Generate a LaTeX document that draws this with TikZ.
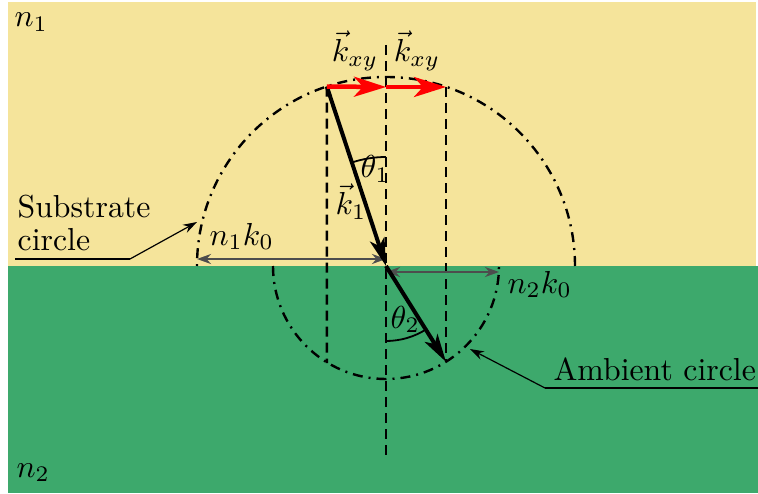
\documentclass[tikz,border=0pt]{standalone}
\usetikzlibrary{arrows.meta}
\definecolor{ybg}{RGB}{245,228,155}
\definecolor{gbg}{RGB}{61,169,108}
\definecolor{grayarr}{RGB}{77,77,77}
\begin{document}
\begin{tikzpicture}[x=1pt,y=1pt,
  every node/.style={inner sep=0pt,scale=3.18},
  dashv/.style={line width=2.6pt,dash pattern=on 10pt off 6pt},
  dashdotc/.style={line width=2.4pt,dash pattern=on 10pt off 6pt on 2pt off 6pt},
  kvec/.style={line width=4pt,-{Stealth[length=28pt,width=15pt,inset=7pt]}},
  kxy/.style={red,line width=4.5pt,-{Stealth[length=32pt,width=20pt,inset=9pt]}},
  garr/.style={grayarr,line width=2.5pt,{Stealth[length=14pt,width=10pt]}-{Stealth[length=14pt,width=10pt]}},
  anglearc/.style={line width=1.8pt},
  annot/.style={line width=1.2pt},
  annarr/.style={line width=1.2pt,-{Stealth[length=14pt,width=9pt]}}]
\useasboundingbox (-386,-227) rectangle (372,266);
\fill[ybg] (-378,0) rectangle (370,264);
\fill[gbg] (-378,-227) rectangle (372,0);
% coordinates
\coordinate (O) at (0,0);
\coordinate (A) at (108.24:189);
\coordinate (B) at (60,-95.8);
\coordinate (T) at (0,179);
\coordinate (R1) at (60,179);
\coordinate (L1) at (-59.15,-97);
\coordinate (C1) at (0,221);
\coordinate (C2) at (0,-189);
\coordinate (S1) at (189,0);
\coordinate (S2) at (-113,0);
\coordinate (G1a) at (0,7);
\coordinate (G1b) at (-189,7);
\coordinate (G2a) at (0,-6);
\coordinate (G2b) at (113,-6);
\coordinate (Th1) at (0,109);
\coordinate (Th2) at (0,-75);
\coordinate (SubU1) at (-371,7);
\coordinate (SubU2) at (-256,7);
\coordinate (SubTip) at (-189,44);
\coordinate (AmbU1) at (372,-122);
\coordinate (AmbU2) at (159,-122);
\coordinate (AmbTip) at (84,-83);
% circles
\draw[dashdotc] (S1) arc[start angle=0,end angle=180,radius=189];
\draw[dashdotc] (S2) arc[start angle=180,end angle=360,radius=113];
% dashed verticals
\draw[dashv] (A) -- (L1);
\draw[dashv] (C1) -- (C2);
\draw[dashv] (R1) -- (B);
% gray arrows
\draw[garr] (G1a) -- (G1b);
\draw[garr] (G2a) -- (G2b);
% angle arcs
\draw[anglearc] (Th1) arc[start angle=90,end angle=108.24,radius=109];
\draw[anglearc] (Th2) arc[start angle=-90,end angle=-57.9,radius=75];
% k vectors
\draw[kvec] (A) -- (O);
\draw[kvec] (O) -- (B);
\draw[kxy] (A) -- (T);
\draw[kxy] (T) -- (R1);
% annotations
\draw[annot] (SubU1) -- (SubU2);
\draw[annarr] (SubU2) -- (SubTip);
\draw[annot] (AmbU1) -- (AmbU2);
\draw[annarr] (AmbU2) -- (AmbTip);
% labels
\node[anchor=base west] (n1) at (-372,239) {$n_1$};
\node[anchor=base west] (n2) at (-370,-211) {$n_2$};
\node[anchor=base] (kxyl) at (-31,204) {$\vec{k}_{xy}$};
\node[anchor=base] (kxyr) at (31,204) {$\vec{k}_{xy}$};
\node[anchor=base west] (th1) at (-26,88) {$\theta_1$};
\node[anchor=base west] (k1) at (-51,51) {$\vec{k}_1$};
\node[anchor=base west] (th2) at (4,-62) {$\theta_2$};
\node[anchor=base west] (n1k0) at (-177,21) {$n_1k_0$};
\node[anchor=base west] (n2k0) at (121,-27) {$n_2k_0$};
\node[anchor=base west] (sub1) at (-369,49) {Substrate};
\node[anchor=base west] (sub2) at (-369,16) {circle};
\node[anchor=base west] (amb) at (167,-114) {Ambient circle};
\end{tikzpicture}
\end{document}
